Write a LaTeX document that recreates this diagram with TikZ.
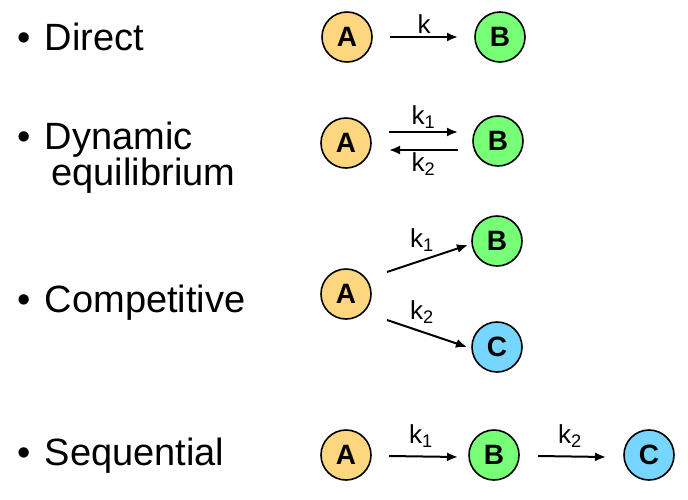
\documentclass[tikz,border=0pt]{standalone}
\usepackage{fontspec}
\setmainfont{Liberation Sans}
\usetikzlibrary{arrows.meta}
\definecolor{corange}{RGB}{255,214,128}
\definecolor{cgreen}{RGB}{119,255,119}
\definecolor{cblue}{RGB}{119,214,255}
\begin{document}
\begin{tikzpicture}[x=1pt,y=-1pt,
  sp/.style={circle,draw=black,line width=1.6pt,minimum size=50pt,inner sep=0pt,font=\fontsize{28}{28}\selectfont\bfseries},
  lbl/.style={anchor=west,align=left,font=\fontsize{38}{42}\selectfont},
  kl/.style={font=\fontsize{26}{26}\selectfont},
  rx/.style={line width=2pt,-{Latex[length=11pt,width=9pt]}}]
\useasboundingbox (0,0) rectangle (688,499);
\node[lbl] (t1) at (14,37) {•\hspace{14pt}Direct};
\node[lbl] (t2) at (14,158) {•\hspace{14pt}Dynamic\\[-6pt]\hspace{34pt}equilibrium};
\node[lbl] (t3) at (14,303) {•\hspace{14pt}Competitive};
\node[lbl] (t4) at (14,456) {•\hspace{14pt}Sequential};
\node[sp,fill=corange] (a1) at (347,37) {A};
\node[sp,fill=cgreen] (b1) at (500,37) {B};
\coordinate (o1) at (390,37); \coordinate (o2) at (458,37);
\draw[rx] (o1) -- node[kl,above=-1pt]{k} (o2);
\node[sp,fill=corange] (a2) at (346,143) {A};
\node[sp,fill=cgreen] (b2) at (498,141) {B};
\coordinate (p1) at (389,132); \coordinate (p2) at (458,132);
\coordinate (q1) at (458,150); \coordinate (q2) at (389,150);
\draw[rx] (p1) -- node[kl,above=-1pt]{k\textsubscript{1}} (p2);
\draw[rx] (q1) -- node[kl,below=-2pt]{k\textsubscript{2}} (q2);
\node[sp,fill=corange] (a3) at (346,294) {A};
\node[sp,fill=cgreen] (b3) at (497,241) {B};
\node[sp,fill=cblue] (c3) at (497,347) {C};
\coordinate (r1) at (387,272); \coordinate (r2) at (468,245);
\coordinate (s1) at (387,320); \coordinate (s2) at (467,347);
\draw[rx] (r1) -- (r2);
\draw[rx] (s1) -- (s2);
\node[kl] (k31) at (422,240) {k\textsubscript{1}};
\node[kl] (k32) at (422,312) {k\textsubscript{2}};
\node[sp,fill=corange] (a4) at (346,455) {A};
\node[sp,fill=cgreen] (b4) at (494,455) {B};
\node[sp,fill=cblue] (c4) at (649,455) {C};
\coordinate (u1) at (389,456); \coordinate (u2) at (458,457);
\coordinate (v1) at (538,456); \coordinate (v2) at (606,457);
\draw[rx] (u1) -- (u2);
\draw[rx] (v1) -- (v2);
\node[kl] (k41) at (421,436) {k\textsubscript{1}};
\node[kl] (k42) at (570,436) {k\textsubscript{2}};
\end{tikzpicture}
\end{document}
